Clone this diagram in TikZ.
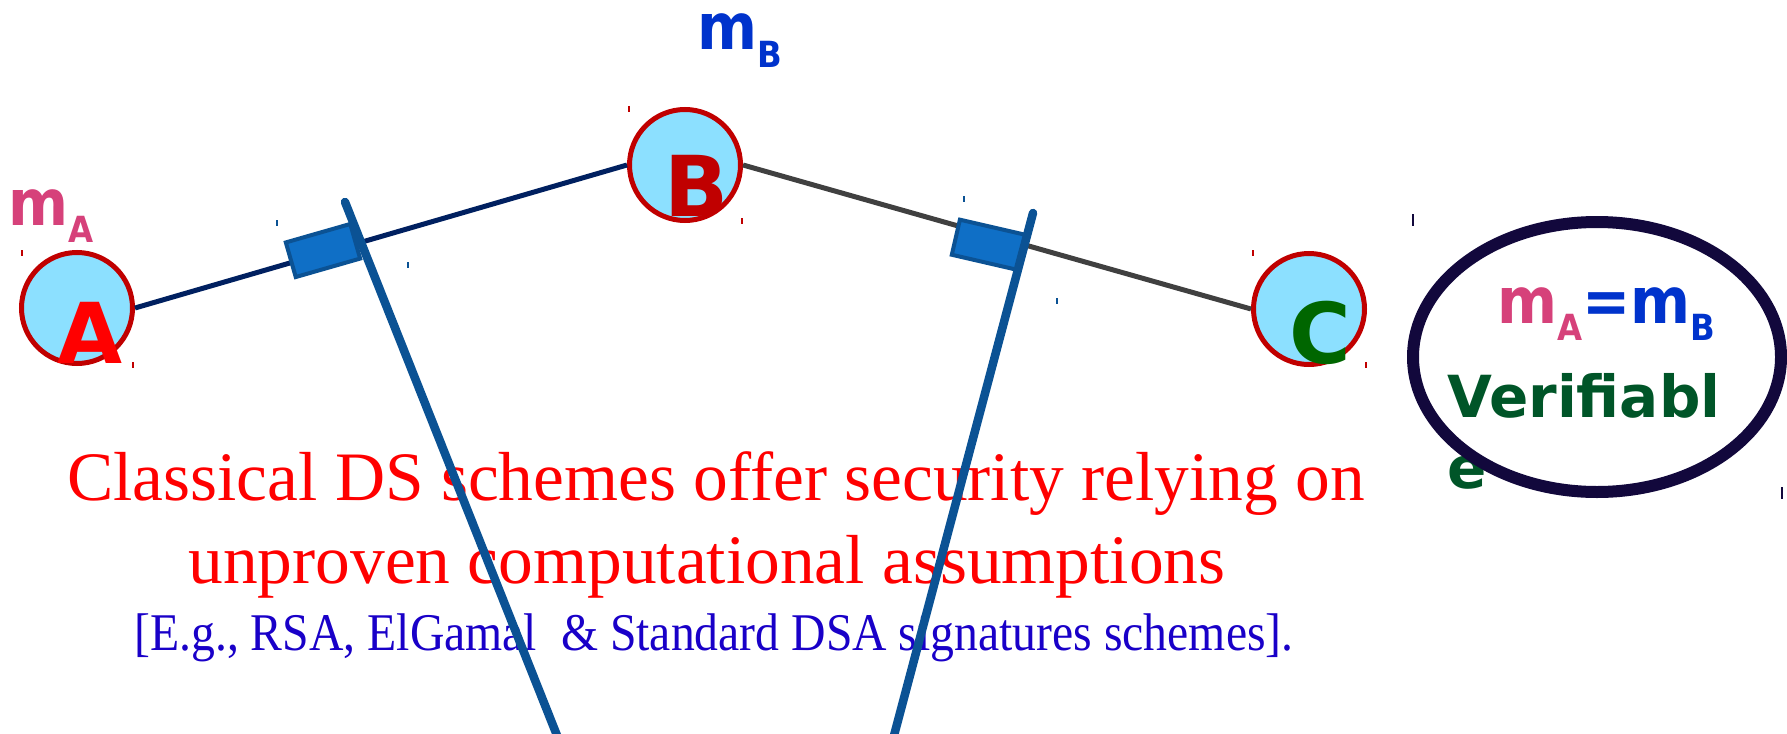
\documentclass[tikz,border=0pt]{standalone}
\usepackage{fontspec}
\setmainfont{Liberation Serif}
\newfontfamily\djv{DejaVu Sans}
\newfontfamily\djvc{DejaVu Sans Condensed}
\newfontfamily\exfont[FakeStretch=0.9]{Liberation Serif}
\usetikzlibrary{shapes.geometric, positioning}

\definecolor{nodefill}{RGB}{140,224,255}
\definecolor{noderim}{RGB}{192,0,0}
\definecolor{linkAB}{RGB}{0,32,96}
\definecolor{linkBC}{RGB}{64,64,64}
\definecolor{flagfill}{RGB}{15,111,198}
\definecolor{flagrim}{RGB}{11,82,148}
\definecolor{mApink}{RGB}{214,65,122}
\definecolor{mBblue}{RGB}{0,51,204}
\definecolor{verigreen}{RGB}{0,85,40}
\definecolor{ringcol}{RGB}{18,8,60}
\definecolor{exblue}{RGB}{25,0,200}
\definecolor{Cgreen}{RGB}{0,102,0}

% message symbol with a lowered subscript
\newcommand{\msg}[1]{m\raisebox{-8.75pt}{\fontsize{18}{18}\selectfont #1}}

\begin{document}
\begin{tikzpicture}[x=0.5pt, y=-0.5pt,
    party/.style={circle, draw=noderim, line width=2.5pt, fill=nodefill, minimum size=55.5pt, inner sep=0pt},
    letter/.style={font=\djv\bfseries\fontsize{42}{42}\selectfont, inner sep=0pt},
    flag/.style={rectangle, draw=flagrim, line width=2pt, fill=flagfill, minimum width=33.5pt, minimum height=18pt, inner sep=0pt},
    pole/.style={draw=flagrim, line width=4.25pt, line cap=round},
    msglabel/.style={font=\djvc\bfseries\fontsize{32}{32}\selectfont, inner sep=0pt, anchor=base west},
    claim/.style={font=\fontsize{34.7}{41.5}\selectfont, text=red, inner sep=0pt, anchor=base},
    handle/.style={line width=0.6pt},
  ]
  \useasboundingbox (0,0) rectangle (1787,733);

  \node[party] (A) at (77,308) {};
  \node[party] (B) at (685,165) {};
  \node[party] (C) at (1309,309) {};
  \draw[linkAB, line width=2.5pt] (A.east)--(B.west);
  \draw[linkBC, line width=2.5pt] (B.east)--(C.west);

  \node[msglabel, mApink] (mA) at (8,225) {\msg{A}};
  \node[msglabel, mBblue] (mB) at (697,50) {\msg{B}};

  \node[claim] (claim1) at (716,500) {Classical DS schemes offer security relying on};
  \node[claim] (claim2) at (707,583) {unproven computational assumptions};
  \node[claim, exblue, font=\exfont\fontsize{26.5}{30}\selectfont] (examples) at (714,650)
    {[E.g., RSA, ElGamal\ \ \& Standard DSA signatures schemes].};

  \node[flag, rotate=16] (flagL) at (323,250.5) {};
  \node[flag, rotate=-13] (flagR) at (988.5,244.75) {};
  \coordinate (poleLtop) at (345,202);
  \coordinate (poleLfoot) at (560,743);
  \coordinate (poleRtop) at (1033,213);
  \coordinate (poleRfoot) at (892,743);
  \draw[pole] (poleLtop)--(poleLfoot);
  \draw[pole] (poleRtop)--(poleRfoot);

  \node[letter, red] (Aname) at (90,333) {A};
  \node[letter, noderim] (Bname) at (697,186) {B};
  \node[letter, Cgreen] (Cname) at (1320,333) {C};

  % verdict
  \node[msglabel] (match) at (1497,323) {\textcolor{mApink}{\msg{A}}\textcolor{mBblue}{=\msg{B}}};
  \node[font=\djv\bfseries\fontsize{29}{35.5}\selectfont, verigreen, align=left, inner sep=0pt, anchor=base west] (verif) at (1447,488) {Verifiabl\\e};
  \node[ellipse, draw=ringcol, line width=6pt, minimum width=184pt, minimum height=135pt] (verdict) at (1597,357) {};

  % leftover selection handles
  \draw[handle, noderim] (22,250)--(22,256); \draw[handle, noderim] (133,362)--(133,368);
  \draw[handle, noderim] (629,106)--(629,112); \draw[handle, noderim] (742,218)--(742,224);
  \draw[handle, noderim] (1253,250)--(1253,256); \draw[handle, noderim] (1366,362)--(1366,368);
  \draw[handle, flagrim] (277,220)--(277,226); \draw[handle, flagrim] (408,262)--(408,268);
  \draw[handle, flagrim] (964,196)--(964,202); \draw[handle, flagrim] (1057,298)--(1057,304);
  \draw[handle, ringcol] (1413,214)--(1413,226); \draw[handle, ringcol] (1782,487)--(1782,499);
\end{tikzpicture}
\end{document}
